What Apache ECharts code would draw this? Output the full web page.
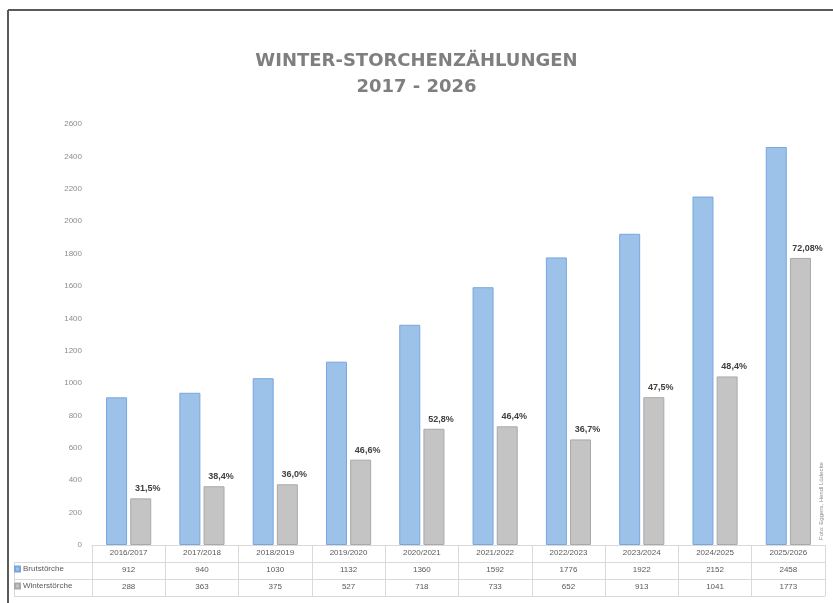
<!DOCTYPE html>
<html>
<head>
<meta charset="utf-8">
<script src="https://cdn.jsdelivr.net/npm/echarts@6/dist/echarts.min.js"></script>
<style>html,body{margin:0;padding:0;background:#fff;}#c{width:833px;height:603px;}</style>
</head>
<body>
<div id="c"></div>
<script>
const categories = ['2016/2017','2017/2018','2018/2019','2019/2020','2020/2021','2021/2022','2022/2023','2023/2024','2024/2025','2025/2026'];
const brutstoerche = [912, 940, 1030, 1132, 1360, 1592, 1776, 1922, 2152, 2458];
const winterstoerche = [288, 363, 375, 527, 718, 733, 652, 913, 1041, 1773];
const percentLabels = ['31,5%','38,4%','36,0%','46,6%','52,8%','46,4%','36,7%','47,5%','48,4%','72,08%'];
const seriesNames = ['Brutstörche', 'Winterstörche'];
const titleLines = ['WINTER-STORCHENZÄHLUNGEN', '2017 - 2026'];
const creditText = 'Foto: Eggers, Hendl Lüdecke';

const chart = echarts.init(document.getElementById('c'));
const lineCol = '#d9d9d9';
const txtCol = '#595959';
const baseX = {
  type: 'category', data: categories, position: 'bottom',
  axisLine: { show: true, lineStyle: { color: lineCol, width: 1 } },
  axisTick: { show: false },
  axisLabel: { fontSize: 8, color: txtCol, margin: 4, fontFamily: 'Liberation Sans' },
  splitLine: { show: false }
};
chart.setOption({
  animation: false,
  backgroundColor: '#fff',
  title: {
    text: titleLines.join('\n'), left: 'center', top: 43,
    textStyle: { fontSize: 18, fontWeight: 'bold', color: '#7f7f7f', lineHeight: 26, fontFamily: 'DejaVu Sans' }
  },
  legend: [
    { data: [seriesNames[0]], left: 14, top: 565, itemWidth: 5, itemHeight: 5, itemGap: 3, icon: 'rect', selectedMode: false,
      textStyle: { fontSize: 8, color: txtCol, padding: [0,0,0,-2] }, padding: 0 },
    { data: [seriesNames[1]], left: 14, top: 582, itemWidth: 5, itemHeight: 5, itemGap: 3, icon: 'rect', selectedMode: false,
      textStyle: { fontSize: 8, color: txtCol, padding: [0,0,0,-2] }, padding: 0 }
  ],
  grid: { left: 92, right: 8, top: 124, bottom: 58, containLabel: false },
  xAxis: [
    Object.assign({}, baseX, {
      axisTick: { show: true, length: 51, lineStyle: { color: lineCol } }
    }),
    Object.assign({}, baseX, { offset: 17, data: brutstoerche.map(String) }),
    Object.assign({}, baseX, { offset: 34, data: winterstoerche.map(String) }),
    Object.assign({}, baseX, { offset: 51, axisLabel: { show: false } })
  ],
  yAxis: {
    type: 'value', min: 0, max: 2600, interval: 200,
    axisLine: { show: false }, axisTick: { show: false }, splitLine: { show: false },
    axisLabel: { fontSize: 8, color: '#8c8c8c', margin: 10, fontFamily: 'Liberation Sans', formatter: v => String(v) }
  },
  series: [
    { name: seriesNames[0], type: 'bar', data: brutstoerche, barWidth: 21, barGap: '15%',
      itemStyle: { color: '#9cc2ea', borderColor: '#79a6dc', borderWidth: 1 } },
    { name: seriesNames[1], type: 'bar', data: winterstoerche, barWidth: 21,
      itemStyle: { color: '#c4c4c4', borderColor: '#a9a9a9', borderWidth: 1 },
      label: { show: true, position: 'top', offset: [7, -1], distance: 4,
        formatter: p => percentLabels[p.dataIndex],
        fontSize: 9, fontWeight: 'bold', color: '#404040', fontFamily: 'Liberation Sans' } }
  ],
  graphic: [
    { type: 'line', shape: { x1: 8, y1: 10, x2: 833, y2: 10 }, style: { stroke: '#5a5a5a', lineWidth: 2 } },
    { type: 'line', shape: { x1: 8, y1: 10, x2: 8, y2: 603 }, style: { stroke: '#5a5a5a', lineWidth: 2 } },
    { type: 'line', shape: { x1: 14, y1: 562.5, x2: 92, y2: 562.5 }, style: { stroke: lineCol, lineWidth: 1 } },
    { type: 'line', shape: { x1: 14, y1: 579.5, x2: 92, y2: 579.5 }, style: { stroke: lineCol, lineWidth: 1 } },
    { type: 'line', shape: { x1: 14, y1: 596.5, x2: 92, y2: 596.5 }, style: { stroke: lineCol, lineWidth: 1 } },
    { type: 'line', shape: { x1: 14.5, y1: 562, x2: 14.5, y2: 597 }, style: { stroke: lineCol, lineWidth: 1 } },
    { type: 'text', x: 818, y: 540, rotation: Math.PI / 2,
      style: { text: creditText, fontSize: 6, fill: '#8c8c8c', fontFamily: 'Liberation Sans' } }
  ]
});
</script>
</body>
</html>
